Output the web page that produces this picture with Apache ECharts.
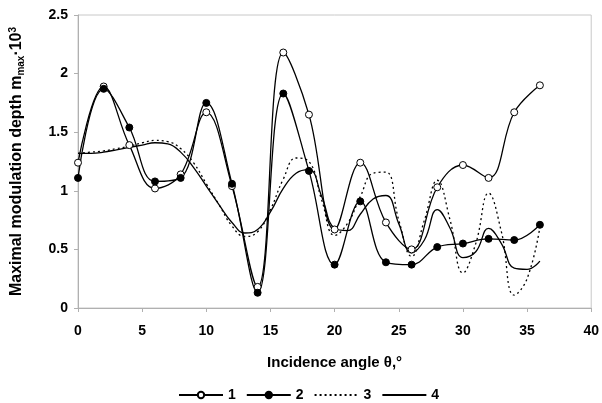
<!DOCTYPE html>
<html>
<head>
<meta charset="utf-8">
<script src="https://cdn.jsdelivr.net/npm/echarts@6/dist/echarts.min.js"></script>
<style>
  html, body { margin: 0; padding: 0; background: #fff; }
  #chart { width: 602px; height: 403px; }
</style>
</head>
<body>
<div id="chart"></div>
<script>
  // measured points, every 2 degrees
  var anglesMarked = [0, 2, 4, 6, 8, 10, 12, 14, 16, 18, 20, 22, 24, 26, 28, 30, 32, 34, 36];
  var curve1 = [1.24, 1.89, 1.39, 1.02, 1.14, 1.67, 1.04, 0.18, 2.18, 1.65, 0.67, 1.24, 0.73, 0.50, 1.03, 1.22, 1.11, 1.67, 1.90];
  var curve2 = [1.11, 1.87, 1.54, 1.08, 1.11, 1.75, 1.06, 0.13, 1.83, 1.17, 0.37, 0.91, 0.39, 0.37, 0.52, 0.55, 0.59, 0.58, 0.71];

  // calculated curves, every degree
  var anglesFine = [0, 1, 2, 3, 4, 5, 6, 7, 8, 9, 10, 11, 12, 13, 14, 15, 16, 17, 18, 19, 20, 21, 22, 23, 24, 25, 26, 27, 28, 29, 30, 31, 32, 33, 34, 35, 36];
  var curve3 = [1.32, 1.33, 1.34, 1.36, 1.38, 1.41, 1.43, 1.42, 1.36, 1.24, 1.06, 0.88, 0.70, 0.61, 0.65, 0.84, 1.10, 1.28, 1.25, 0.92, 0.62, 0.72, 0.95, 1.15, 1.16, 0.75, 0.44, 0.75, 1.09, 0.75, 0.30, 0.55, 0.98, 0.65, 0.11, 0.25, 0.69];
  var curve4 = [1.32, 1.32, 1.33, 1.35, 1.37, 1.39, 1.41, 1.40, 1.33, 1.20, 1.04, 0.88, 0.73, 0.64, 0.67, 0.82, 1.02, 1.15, 1.18, 0.95, 0.68, 0.66, 0.80, 0.93, 0.96, 0.72, 0.47, 0.58, 0.84, 0.68, 0.43, 0.48, 0.68, 0.55, 0.34, 0.33, 0.40];

  var font = 'Liberation Sans, Arial, sans-serif';

  function pairs(xs, ys) {
    return xs.map(function (x, i) { return [x, ys[i]]; });
  }

  var chart = echarts.init(document.getElementById('chart'));
  var option = {
    animation: false,
    backgroundColor: '#fff',
    grid: {
      left: 77, right: 8, top: 15, bottom: 95,
      show: true,
      borderColor: '#c8c8c8',
      borderWidth: 1
    },
    legend: {
      bottom: 0,
      left: 173,
      padding: [5, 5, 1, 5],
      itemWidth: 44,
      itemHeight: 8,
      itemGap: 10,
      textStyle: { fontFamily: font, fontWeight: 'bold', fontSize: 14, color: '#000' },
      data: [
        { name: '1' },
        { name: '2' },
        { name: '3', itemStyle: { opacity: 0 } },
        { name: '4', itemStyle: { opacity: 0 } }
      ]
    },
    xAxis: {
      type: 'value',
      min: 0, max: 40, interval: 5,
      name: 'Incidence angle θ,°',
      nameLocation: 'middle',
      nameGap: 47,
      nameTextStyle: { fontFamily: font, fontWeight: 'bold', fontSize: 15, color: '#000' },
      axisLine: { lineStyle: { color: '#b0b0b0' } },
      axisTick: { show: true, length: 4, lineStyle: { color: '#b0b0b0' } },
      axisLabel: { fontFamily: font, fontWeight: 'bold', fontSize: 14, color: '#000', margin: 16 },
      splitLine: { show: false }
    },
    yAxis: {
      type: 'value',
      min: 0, max: 2.5, interval: 0.5,
      name: 'Maximal modulation depth m{sub|max}·10{sup|3}',
      nameLocation: 'middle',
      nameRotate: 90,
      nameGap: 52,
      nameTextStyle: {
        fontFamily: font, fontWeight: 'bold', fontSize: 16, color: '#000',
        rich: {
          sub: { fontFamily: font, fontWeight: 'bold', fontSize: 10, color: '#000', verticalAlign: 'bottom', padding: [6, 0, 0, 0] },
          sup: { fontFamily: font, fontWeight: 'bold', fontSize: 10, color: '#000', verticalAlign: 'top', padding: [0, 0, 8, 0] }
        }
      },
      axisLine: { show: true, lineStyle: { color: '#b0b0b0' } },
      axisTick: { show: true, length: 4, lineStyle: { color: '#b0b0b0' } },
      axisLabel: { fontFamily: font, fontWeight: 'bold', fontSize: 14, color: '#000', margin: 10 },
      splitLine: { show: false }
    },
    series: [
      {
        name: '1', type: 'line', smooth: 0.4,
        data: pairs(anglesMarked, curve1),
        symbol: 'circle', symbolSize: 7,
        itemStyle: { color: '#fff', borderColor: '#000', borderWidth: 1 },
        lineStyle: { color: '#000', width: 1.3 },
        z: 4
      },
      {
        name: '2', type: 'line', smooth: 0.4,
        data: pairs(anglesMarked, curve2),
        symbol: 'circle', symbolSize: 7,
        itemStyle: { color: '#000', borderColor: '#000', borderWidth: 1 },
        lineStyle: { color: '#000', width: 1.3 },
        z: 4
      },
      {
        name: '3', type: 'line', smooth: 0.45,
        data: pairs(anglesFine, curve3),
        symbol: 'none',
        itemStyle: { color: '#000' },
        lineStyle: { color: '#000', width: 1.3, type: [2, 3] },
        z: 3
      },
      {
        name: '4', type: 'line', smooth: 0.45,
        data: pairs(anglesFine, curve4),
        symbol: 'none',
        itemStyle: { color: '#000' },
        lineStyle: { color: '#000', width: 1.3 },
        z: 3
      }
    ]
  };
  chart.setOption(option);
</script>
</body>
</html>
